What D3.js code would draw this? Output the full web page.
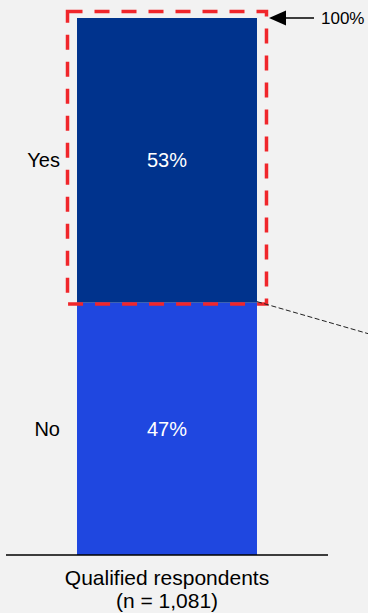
<!DOCTYPE html>
<html><head><meta charset="utf-8">
<script src="https://cdn.jsdelivr.net/npm/d3@7"></script>
<style>html,body{margin:0;padding:0;background:#f2f2f2;}svg{display:block;font-family:Arial,"Liberation Sans",sans-serif;}</style>
</head><body>
<script>
const categories = ["Qualified respondents"];
const subtitle = "(n = 1,081)";
const segments = ["No", "Yes"];
const values = [47, 53];
const colors = ["#1F47E0", "#00338D"];
const totalLabel = "100%";

const W = 368, H = 613;
const svg = d3.select("body").append("svg").attr("width", W).attr("height", H);
svg.append("rect").attr("width", W).attr("height", H).attr("fill", "#f2f2f2");

const x = d3.scaleBand().domain(categories).range([7, 327]).paddingInner(0).paddingOuter(0.389);
const y = d3.scaleLinear().domain([0, 100]).range([555, 18]);

let cum = 0;
const segs = segments.map((s, i) => { const d = {name: s, v: values[i], y0: cum, y1: cum + values[i], color: colors[i]}; cum += values[i]; return d; });

const bx = x(categories[0]), bw = x.bandwidth();
svg.selectAll("rect.seg").data(segs).enter().append("rect")
  .attr("x", bx).attr("width", bw)
  .attr("y", d => y(d.y1)).attr("height", d => y(d.y0) - y(d.y1))
  .attr("fill", d => d.color);

svg.selectAll("text.val").data(segs).enter().append("text")
  .attr("x", bx + bw / 2).attr("y", d => y((d.y0 + d.y1) / 2)).attr("dy", "0.35em")
  .attr("text-anchor", "middle").attr("fill", "#fff").attr("font-size", 20)
  .text(d => d.v + "%");

svg.selectAll("text.cat").data(segs).enter().append("text")
  .attr("x", 60).attr("y", d => y((d.y0 + d.y1) / 2)).attr("dy", "0.35em")
  .attr("text-anchor", "end").attr("fill", "#000").attr("font-size", 20)
  .text(d => d.name);

// axis baseline
svg.append("line").attr("x1", 6).attr("x2", 328).attr("y1", y(0)).attr("y2", y(0))
  .attr("stroke", "#000").attr("stroke-width", 1.5);

svg.append("text").attr("x", bx + bw / 2).attr("y", 585).attr("text-anchor", "middle")
  .attr("font-size", 21).attr("fill", "#000").text(categories[0]);
svg.append("text").attr("x", bx + bw / 2).attr("y", 608).attr("text-anchor", "middle")
  .attr("font-size", 21).attr("fill", "#000").text(subtitle);

// highlighted Yes segment
const yes = segs[1];
svg.append("rect")
  .attr("x", bx - 9.5).attr("width", bw + 19)
  .attr("y", y(yes.y1) - 6.5).attr("height", y(yes.y0) - y(yes.y1) + 8)
  .attr("fill", "none").attr("stroke", "#F0262B").attr("stroke-width", 3.5)
  .attr("stroke-dasharray", "15,12");

// connector dashed line
svg.append("line").attr("x1", bx + bw).attr("y1", y(yes.y0) - 1)
  .attr("x2", W).attr("y2", y(yes.y0) + 31)
  .attr("stroke", "#222").attr("stroke-width", 1).attr("stroke-dasharray", "5,2.5");

// 100% arrow
svg.append("line").attr("x1", 314).attr("x2", 283).attr("y1", y(100)).attr("y2", y(100))
  .attr("stroke", "#000").attr("stroke-width", 1.5);
svg.append("path").attr("d", `M269,${y(100)} L286,${y(100) - 7.5} L286,${y(100) + 7.5} Z`).attr("fill", "#000");
svg.append("text").attr("x", 321).attr("y", y(100)).attr("dy", "0.35em")
  .attr("font-size", 17).attr("fill", "#000").text(totalLabel);
</script>
</body></html>
